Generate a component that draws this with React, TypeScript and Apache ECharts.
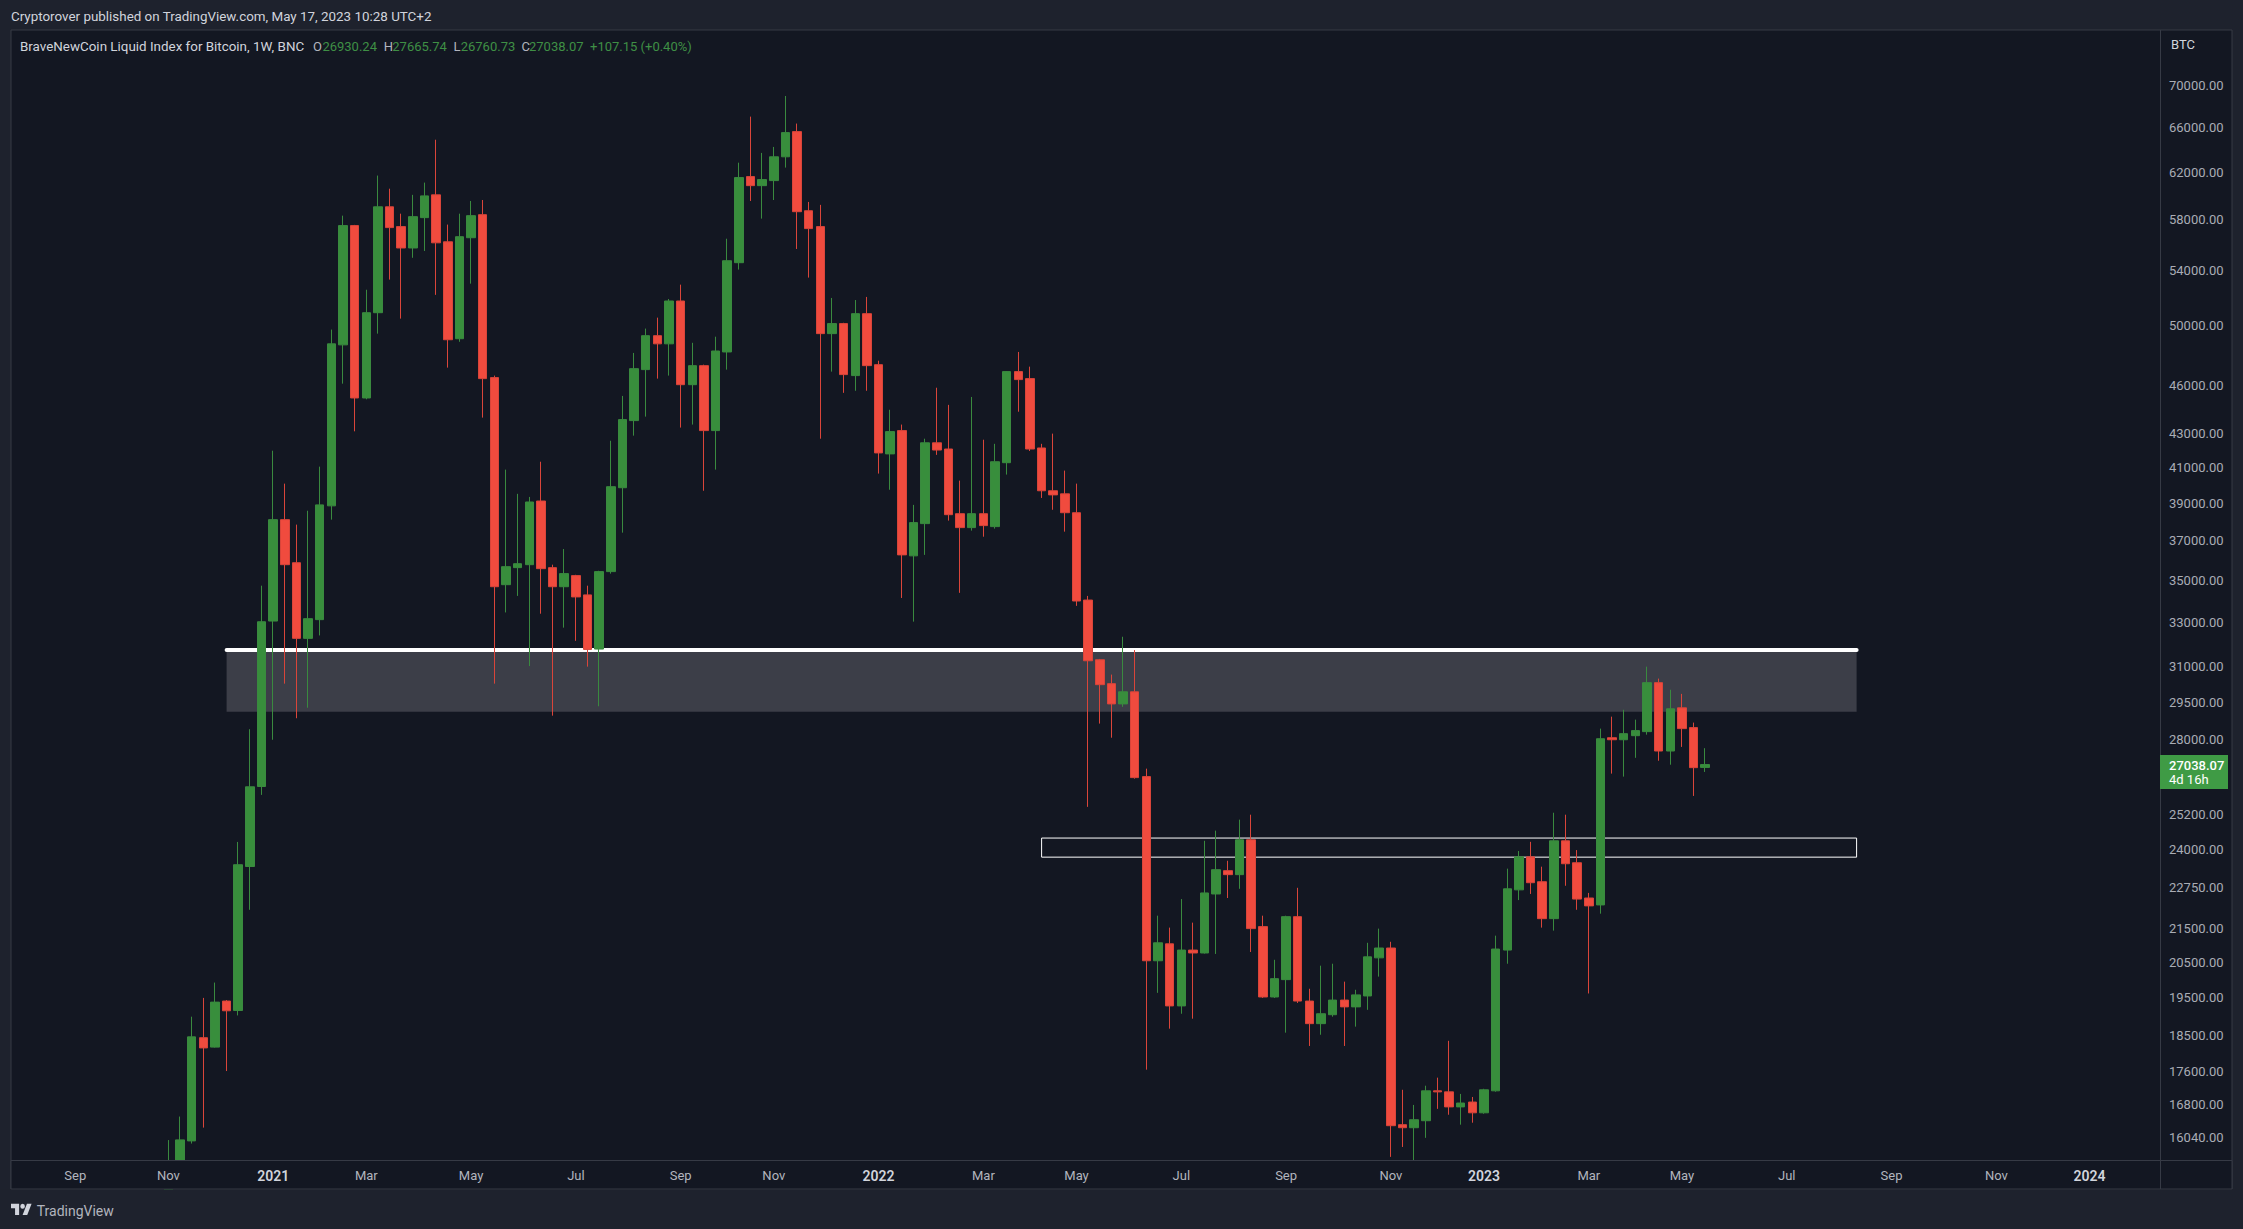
import React, { useEffect, useRef } from "react";
import * as echarts from "echarts";

// Weekly candles, first one is the week of 2020-11-02
const opens = [
  13700, 15450, 15961, 18444, 18202, 19415, 19160, 23441, 26220, 33058,
  38104, 35873, 32266, 33123, 38846, 48671, 57521, 45182, 50915, 59054,
  57440, 55745, 58166, 60052, 56230, 49092, 56552, 58408, 46490, 34786,
  35626, 35774, 39111, 35626, 34687, 35230, 34292, 31786, 35428, 39846,
  43773, 47013, 49302, 48742, 51756, 46032, 47275, 43164, 48190, 54608,
  61608, 60830, 61262, 63338, 65613, 58731, 57440, 49443, 50144, 46621,
  50845, 47340, 41778, 43164, 36219, 37892, 42433, 42066, 38422, 37680,
  38422, 37733, 41267, 46882, 46424, 42127, 39676, 39506, 38475, 34045,
  31313, 30283, 29435, 29940, 26586, 20542, 21035, 19283, 20852, 20767,
  22556, 23305, 23175, 24335, 21548, 19526, 20006, 21851, 19415, 18810,
  19047, 19441, 19257, 19554, 20626, 20912, 16328, 16259, 16419, 17121,
  17096, 16740, 16854, 16602, 17121, 20852, 22687, 23760, 22947, 21790,
  24300, 23565, 22429, 22213, 28075, 27995, 28155, 28315, 30326, 27556,
  29275, 28475, 26930.24,
];
const highs = [
  15980, 16515, 18994, 19501, 19924, 19441, 24262, 28411, 34737, 41965,
  40074, 37839, 38581, 41039, 49723, 58328, 57577, 52578, 61695, 60570,
  58489, 60052, 61090, 64871, 57602, 58489, 59538, 59619, 46621, 40869,
  39506, 39335, 41323, 35774, 36567, 35270, 34737, 35470, 42555, 45313,
  48125, 49793, 50564, 51901, 52954, 48812, 47340, 49232, 56472, 62819,
  67005, 63684, 64221, 68969, 66356, 59458, 59215, 51976, 50200, 51826,
  52051, 47602, 44443, 43530, 38899, 42677, 45836, 44747, 40244, 45247,
  42616, 42372, 46920, 48190, 47209, 42372, 42981, 40812, 40074, 34243,
  31350, 30670, 32339, 31742, 26884, 21881, 21518, 22396, 21669, 24300,
  24648, 23630, 25031, 25205, 21881, 20570, 21880, 22752, 19752, 20401,
  20457, 19950, 19724, 21065, 21488, 21095, 17146, 16786, 17244, 17440,
  18363, 17047, 16974, 17170, 21277, 23370, 23955, 24265, 23435, 25275,
  25205, 23987, 22590, 28435, 28915, 29195, 28795, 31013, 30498, 30026,
  29852, 28675, 27665.74,
];
const lows = [
  13500, 15150, 15902, 16261, 18190, 17602, 19028, 22062, 25914, 27995,
  30283, 28851, 29279, 32399, 38104, 46097, 43121, 45098, 49443, 53330,
  50494, 54984, 55511, 52202, 47144, 48881, 53029, 43956, 30283, 33460,
  34243, 31038, 33400, 28955, 32754, 32155, 31013, 29339, 35329, 37415,
  42860, 44017, 46424, 46621, 43347, 43530, 39676, 40869, 47013, 54082,
  59538, 58085, 59619, 62387, 55666, 53480, 42677, 46882, 45509, 45640,
  45640, 40642, 39733, 34144, 33031, 36268, 41721, 38051, 34391, 37521,
  37203, 37627, 40585, 44321, 41948, 39278, 38634, 37468, 33768, 25483,
  28635, 28075, 29315, 26510, 17636, 19639, 18678, 19073, 18941, 20750,
  20739, 22429, 22720, 20796, 19500, 19500, 18574, 19362, 18231, 18520,
  18994, 18231, 18731, 19178, 20091, 15608, 15826, 15480, 16030, 16694,
  16557, 16328, 16373, 16580, 17100, 20457, 22364, 22557, 21518, 21428,
  22817, 22062, 19622, 21942, 26698, 26586, 27295, 28195, 27183, 27033,
  27715, 25876, 26760.73,
];
const closes = [
  15450, 15984, 18465, 18181, 19386, 19152, 23500, 26209, 33026, 38104,
  35774, 32266, 33169, 38899, 48742, 57521, 45182, 50915, 59054, 57359,
  55745, 58247, 59965, 56149, 49022, 56633, 58328, 46424, 34687, 35675,
  35823, 39058, 35576, 34687, 35329, 34194, 31772, 35428, 39903, 43834,
  47078, 49302, 48742, 51756, 46032, 47275, 43164, 48256, 54759, 61522,
  60830, 61349, 63338, 65521, 58651, 57279, 49443, 50144, 46686, 50845,
  47275, 41835, 43103, 36268, 37945, 42433, 42005, 38369, 37680, 38422,
  37786, 41323, 46882, 46360, 42066, 39676, 39448, 38475, 33999, 31270,
  30240, 29435, 29940, 26549, 20542, 21065, 19283, 20852, 20767, 22589,
  23337, 23175, 24335, 21488, 19526, 20034, 21851, 19415, 18810, 19073,
  19441, 19257, 19583, 20655, 20912, 16305, 16259, 16442, 17121, 17096,
  16740, 16831, 16602, 17146, 20882, 22720, 23760, 22915, 21790, 24300,
  23532, 22396, 22183, 28035, 27995, 28235, 28355, 30326, 27556, 29235,
  28435, 26922, 27038.07,
];

const yTicks = [
  70000, 66000, 62000, 58000, 54000, 50000, 46000, 43000, 41000, 39000, 37000,
  35000, 33000, 31000, 29500, 28000, 25200, 24000, 22750, 21500, 20500, 19500,
  18500, 17600, 16800, 16040,
];
const xTickDates = [
  "2020-09-07", "2020-11-02", "2021-01-04", "2021-03-01", "2021-05-03", "2021-07-05", "2021-09-06",
  "2021-11-01", "2022-01-03", "2022-03-07", "2022-05-02", "2022-07-04", "2022-09-05", "2022-11-07",
  "2023-01-02", "2023-03-06", "2023-05-01", "2023-07-03", "2023-09-04", "2023-11-06", "2024-01-01",
];
const xTickLabels = [
  "Sep", "Nov", "2021", "Mar", "May", "Jul", "Sep", "Nov", "2022", "Mar", "May", "Jul", "Sep", "Nov",
  "2023", "Mar", "May", "Jul", "Sep", "Nov", "2024",
];

// Zones drawn on the chart, in price and date
const zoneTop = 31742;
const zoneBottom = 29115;
const zoneStart = "2020-12-07";
const zoneEnd = "2023-08-14";
const boxTop = 24394;
const boxBottom = 23750;
const boxStart = "2022-04-11";
const boxEnd = "2023-08-14";

const priceMax = 75648;
const priceMin = 15540;
const leadingWeeks = 13;
const totalWeeks = 184;

const BG = "#1e222d";
const PANE = "#131722";
const BORDER = "#363a45";
const GREEN = "#388e3c";
const RED = "#f04b3e";
const FONT = "Roboto";

const weekDates: string[] = [];
for (let i = 0; i < totalWeeks; i++) {
  weekDates.push(new Date(Date.UTC(2020, 7, 3 + 7 * i)).toISOString().slice(0, 10));
}
const lg = (p: number) => Math.log(p);

echarts.graphic.registerShape(
  "tvLogo",
  echarts.graphic.extendPath(
    "M14 22H7V11H0V4h14v18zM28 22h-8l7.5-18h8L28 22zM20 4a4 4 0 1 1 0 8a4 4 0 1 1 0-8z",
    {}
  )
);

function txt(x: number, y: number, text: string, fill: string, extra: any = {}, z = 20) {
  return {
    type: "text",
    x,
    y,
    z,
    silent: true,
    style: { text, fill, font: `13px ${FONT}`, verticalAlign: "middle", ...extra },
  };
}

export default function App() {
  const ref = useRef<HTMLDivElement>(null);
  useEffect(() => {
    const chart = echarts.init(ref.current!, undefined, { renderer: "svg" });
    const candles: any[] = [];
    for (let i = 0; i < leadingWeeks; i++) candles.push(["-", "-", "-", "-"]);
    opens.forEach((o, i) => candles.push([lg(o), lg(closes[i]), lg(lows[i]), lg(highs[i])]));

    const legendY = 46.5;
    const vG = "#3f8f45";
    const vL = "#b2b5be";
    const head = { font: `13.4px ${FONT}` };
    chart.setOption({
      animation: false,
      backgroundColor: BG,
      tooltip: { show: false },
      grid: { left: 11.2, top: 30, width: 2142.3, height: 1130, containLabel: false },
      xAxis: {
        type: "category",
        data: weekDates,
        boundaryGap: true,
        z: 30,
        axisLine: { show: false },
        axisTick: { show: false },
        splitLine: { show: false },
        axisLabel: {
          interval: (_: number, v: string) => xTickDates.includes(v),
          margin: 9,
          hideOverlap: false,
          formatter: (v: string) => {
            const l = xTickLabels[xTickDates.indexOf(v)] ?? "";
            return /^\d+$/.test(l) ? `{y|${l}}` : `{m|${l}}`;
          },
          rich: {
            y: { color: "#d1d4dc", fontFamily: FONT, fontSize: 14, fontWeight: 600 },
            m: { color: "#b2b5be", fontFamily: FONT, fontSize: 13 },
          },
        },
      },
      yAxis: {
        type: "value",
        position: "right",
        min: lg(priceMin),
        max: lg(priceMax),
        axisLine: { show: false },
        axisTick: { show: false },
        splitLine: { show: false },
        axisLabel: {
          customValues: yTicks.map(lg),
          margin: 15.5,
          color: "#a9acb5",
          fontFamily: FONT,
          fontSize: 13,
          formatter: (v: number) => Math.round(Math.exp(v)).toFixed(2),
        },
      },
      series: [
        {
          name: "Zones",
          type: "line",
          data: [],
          silent: true,
          z: 1,
          markArea: {
            silent: true,
            z: 1,
            label: { show: false },
            data: [
              [
                { coord: [zoneStart, lg(zoneTop)], itemStyle: { color: "#3c3e48" } },
                { coord: [zoneEnd, lg(zoneBottom)] },
              ],
              [
                {
                  coord: [boxStart, lg(boxTop)],
                  itemStyle: { color: "rgba(0,0,0,0)", borderColor: "#ffffff", borderWidth: 1 },
                },
                { coord: [boxEnd, lg(boxBottom)] },
              ],
            ],
          },
          markLine: {
            silent: true,
            z: 1,
            symbol: "none",
            label: { show: false },
            lineStyle: { color: "#ffffff", width: 4, type: "solid", cap: "round" },
            data: [[{ coord: [zoneStart, lg(zoneTop)] }, { coord: [zoneEnd, lg(zoneTop)] }]],
          },
        },
        {
          name: "BTC",
          type: "candlestick",
          z: 3,
          barWidth: 9,
          data: candles,
          itemStyle: {
            color: GREEN,
            color0: RED,
            borderColor: "#3a8a3f",
            borderColor0: "#d9453a",
            borderWidth: 1,
          },
        },
      ],
      graphic: {
        elements: [
          { type: "rect", z: -10, silent: true, shape: { x: 11, y: 30, width: 2221, height: 1159 }, style: { fill: PANE, stroke: BORDER, lineWidth: 1 } },
          { type: "line", z: -9, silent: true, shape: { x1: 2160.5, y1: 30, x2: 2160.5, y2: 1161 }, style: { stroke: BORDER, lineWidth: 1 } },

          // Panes below the plot hide the part of the candles that runs past the bottom edge
          { type: "rect", z: 10, silent: true, shape: { x: 11, y: 1160.5, width: 2221, height: 28.5 }, style: { fill: PANE, stroke: BORDER, lineWidth: 1 } },
          { type: "rect", z: 10, silent: true, shape: { x: 0, y: 1189.5, width: 2243, height: 40 }, style: { fill: BG } },
          { type: "line", z: 11, silent: true, shape: { x1: 2160.5, y1: 1160.5, x2: 2160.5, y2: 1189 }, style: { stroke: BORDER, lineWidth: 1 } },

          txt(11, 16.5, "Cryptorover published on TradingView.com, May 17, 2023 10:28 UTC+2", "#d1d4dc", head),
          txt(20, legendY, "BraveNewCoin Liquid Index for Bitcoin, 1W, BNC", "#d1d4dc", head),
          txt(313, legendY, "O", vL),
          txt(322.4, legendY, "26930.24", vG),
          txt(383.7, legendY, "H", vL),
          txt(392.3, legendY, "27665.74", vG),
          txt(453.6, legendY, "L", vL),
          txt(460.7, legendY, "26760.73", vG),
          txt(521.4, legendY, "C", vL),
          txt(529, legendY, "27038.07", vG),
          txt(590, legendY, "+107.15 (+0.40%)", vG),
          txt(2171, 44.7, "BTC", "#d1d4dc"),

          { type: "rect", z: 15, silent: true, shape: { x: 2160, y: 755, width: 68, height: 34 }, style: { fill: "#3f9b45" } },
          txt(2169, 765, "27038.07", "#ffffff", { font: `500 13px ${FONT}` }),
          txt(2169, 779.6, "4d 16h", "#ffffff"),

          { type: "tvLogo", z: 20, silent: true, x: 11, y: 1201.2, scaleX: 0.58, scaleY: 0.63, style: { fill: "#d1d4dc" } },
          txt(36.7, 1210.5, "TradingView", "#b2b5be", { font: `14px ${FONT}` }),
        ],
      },
    });
    return () => chart.dispose();
  }, []);
  return <div ref={ref} style={{ position: "absolute", left: 0, top: 0, width: 2243, height: 1229 }} />;
}
